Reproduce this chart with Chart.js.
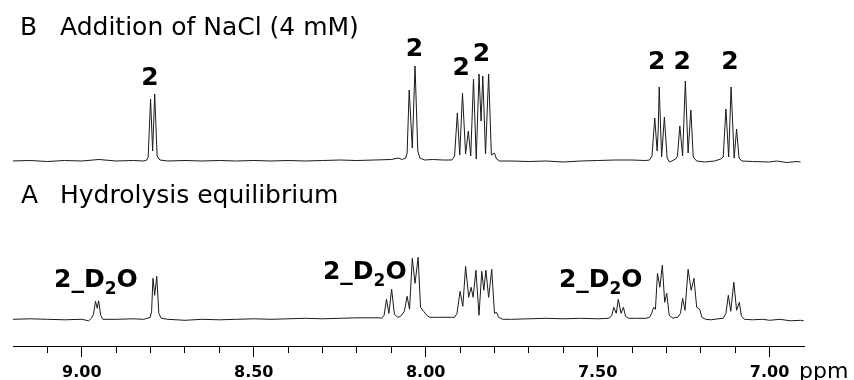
<!DOCTYPE html>
<html lang="en">
<head>
<meta charset="UTF-8">
<title>NMR spectra - NaCl addition</title>
<style>
  body { margin: 0; background: #fff; }
  #spec { display: block; }
</style>
</head>
<body>
<canvas id="spec" width="854" height="380"></canvas>
<script src="https://cdn.jsdelivr.net/npm/chart.js"></script>
<script>
// chemical shift (ppm) and signal height
const ppmB = [
  9.205, 9.150, 9.100, 9.050, 9.000, 8.950, 8.900, 8.850, 8.820,
  8.811, 8.807, 8.800, 8.794, 8.788, 8.781, 8.773,
  8.750, 8.700, 8.650, 8.600, 8.550, 8.500, 8.450, 8.400, 8.350, 8.300, 8.250, 8.200, 8.150, 8.100, 8.080, 8.068,
  8.058, 8.054, 8.048, 8.039, 8.031, 8.023, 8.017, 8.003,
  7.980, 7.950, 7.924,
  7.916, 7.908, 7.901, 7.893, 7.884, 7.876, 7.869, 7.861, 7.853, 7.845, 7.839, 7.834, 7.826, 7.817, 7.809, 7.800, 7.794, 7.785,
  7.750, 7.700, 7.650, 7.600, 7.550, 7.500, 7.450, 7.400, 7.360, 7.349,
  7.342, 7.334, 7.327, 7.324, 7.321, 7.314, 7.306, 7.298, 7.291, 7.285, 7.273,
  7.268, 7.261, 7.253, 7.245, 7.237, 7.229, 7.222, 7.212,
  7.189, 7.160, 7.142,
  7.135, 7.127, 7.119, 7.112, 7.103, 7.096, 7.089, 7.081,
  7.050, 7.000, 6.980, 6.950, 6.920, 6.910
];
const intB = [
  0, 0.5, -0.5, 0.5, 0, 1.5, 0, 0.5, 0,
  1, 4, 62, 10, 67, 5, 1,
  0, 0.5, 0, 0.5, 0, 0.5, 0, 0.5, 0, 0.5, 1, 0.5, 1, 1.5, 3, 1.5,
  3, 8, 71, 13, 95, 10, 3, 1,
  1.5, 1, 1,
  5, 48, 6, 68, 7, 30, 5, 82, 2, 87, 40, 85, 7, 87, 6, 8, 2, 0,
  0, -0.5, 0, -1, 0, 0.5, 1, 1, 0.5, 1,
  5, 43, 10, 30, 74, 4, 44, 3, -1, 0, 2,
  5, 35, 5, 80, 8, 51, 4, 0,
  -1, 0, 2,
  4, 52, 4, 74, 3, 32, 3, 0,
  -0.5, -1, 0, -1.5, -0.5, -1
];

const ppmA = [
  9.200, 9.150, 9.100, 9.050, 9.000, 8.980,
  8.972, 8.966, 8.960, 8.955, 8.951, 8.945, 8.939,
  8.900, 8.850, 8.820,
  8.801, 8.797, 8.793, 8.788, 8.782, 8.776, 8.769,
  8.750, 8.700, 8.650, 8.600, 8.550, 8.500, 8.450, 8.400, 8.350, 8.300, 8.250, 8.200, 8.150, 8.135,
  8.128, 8.121, 8.114, 8.107, 8.099, 8.091, 8.081, 8.073, 8.062, 8.054, 8.047, 8.039, 8.031, 8.022, 8.015, 8.006, 7.997, 7.988, 7.974,
  7.950, 7.925,
  7.916, 7.909, 7.900, 7.892, 7.884, 7.875, 7.868, 7.862, 7.854, 7.845, 7.837, 7.831, 7.825, 7.817, 7.808, 7.800, 7.794, 7.788, 7.776,
  7.750, 7.700, 7.650, 7.600, 7.550, 7.500, 7.470,
  7.465, 7.459, 7.453, 7.446, 7.440, 7.432, 7.425, 7.419, 7.410,
  7.390, 7.360, 7.349,
  7.343, 7.337, 7.332, 7.326, 7.319, 7.312, 7.305, 7.299, 7.292, 7.281, 7.273,
  7.267, 7.259, 7.253, 7.246, 7.237, 7.228, 7.220, 7.212, 7.203, 7.197, 7.186,
  7.170, 7.150,
  7.135, 7.127, 7.120, 7.113, 7.104, 7.096, 7.088, 7.082, 7.073,
  7.050, 7.020, 7.000, 6.970, 6.940, 6.910, 6.901
];
const intA = [
  0, 0.5, 0, -0.5, 0, -1.5,
  1, 5, 18, 11, 18.5, 4, 0,
  0, 0.5, 0,
  2, 8, 41, 24, 43, 6, 1,
  0, -1, 0, -0.5, 0, 0.5, 0, 0.5, 1, 0.5, 1, 1.5, 1.5, 1.5,
  1, 4, 20, 6, 30, 5, 2, 3, 8, 23, 10, 61, 36, 62, 12, 8, 4, 2, 2,
  2, 2,
  2, 6, 28, 13, 53, 22, 32, 22, 49, 4, 48, 29, 49, 22, 50, 6, 7, 2, 0,
  0, 0.5, 1, 0.5, 1, 0.5, 1,
  1.5, 4, 12, 6, 20, 6, 12, 3, 1,
  1, 1, 2,
  6, 12, 10, 46, 32, 54, 17, 26, 4, 1, 2,
  2, 6, 21, 9, 50, 29, 41, 12, 10, 2, 0,
  -0.5, 0.5,
  1, 6, 24, 8, 37, 9, 17, 3, 0,
  -0.5, 0, -1, 0, -1.5, -1, -1.5
];

// peak annotations: where they sit (ppm) and how high above the trace
const labelB_ppm = [8.802, 8.033, 7.897, 7.838, 7.328, 7.254, 7.115];
const labelB_h = [76, 105, 86, 100, 92, 92, 92];
const labelA_ppm = [8.959, 8.177, 7.491];
const labelA_h = [32, 40, 32];

const majorTicks = [9.0, 8.5, 8.0, 7.5, 7.0];
const titleB = 'Addition of NaCl (4 mM)';
const titleA = 'Hydrolysis equilibrium';

// vertical offsets of the two stacked traces
const baseB = 185;
const baseA = 26.7;

Chart.defaults.font.family = '"DejaVu Sans", sans-serif';

function isMajor(v) {
    return majorTicks.some(m => Math.abs(m - v) < 1e-6);
}

function drawD2O(ctx, cx, by) {
    const big = 'bold 25px "DejaVu Sans"';
    const small = 'bold 17px "DejaVu Sans"';
    ctx.font = big;
    const w1 = ctx.measureText('2_D').width;
    const w3 = ctx.measureText('O').width;
    ctx.font = small;
    const w2 = ctx.measureText('2').width;
    let x = cx - (w1 + w2 + w3) / 2;
    ctx.textAlign = 'left';
    ctx.font = big;
    ctx.fillText('2_D', x, by);
    x += w1;
    ctx.font = small;
    ctx.fillText('2', x, by + 7);
    x += w2;
    ctx.font = big;
    ctx.fillText('O', x, by);
}

const textPlugin = {
    id: 'spectrumText',
    afterDraw(chart) {
        const ctx = chart.ctx;
        const xs = chart.scales.x, ys = chart.scales.y;
        ctx.save();
        ctx.fillStyle = '#000';
        ctx.textBaseline = 'alphabetic';
        ctx.textAlign = 'left';

        ctx.font = '25px "DejaVu Sans"';
        ctx.fillText('B', 20, 35);
        ctx.fillText(titleB, 60, 35);
        ctx.fillText('A', 21, 203);
        ctx.fillText(titleA, 60, 203);

        ctx.font = 'bold 25px "DejaVu Sans"';
        ctx.textAlign = 'center';
        labelB_ppm.forEach((p, i) => {
            ctx.fillText('2', xs.getPixelForValue(p), ys.getPixelForValue(baseB + labelB_h[i]));
        });

        labelA_ppm.forEach((p, i) => {
            drawD2O(ctx, xs.getPixelForValue(p), ys.getPixelForValue(baseA + labelA_h[i]));
        });

        ctx.font = '22px "DejaVu Sans"';
        ctx.textAlign = 'left';
        ctx.fillText('ppm', 799, 378);
        ctx.restore();
    }
};

new Chart(document.getElementById('spec'), {
    type: 'line',
    data: {
        datasets: [
            {
                label: 'B',
                data: ppmB.map((p, i) => ({ x: p, y: baseB + intB[i] })),
                borderColor: '#1a1a1a',
                borderWidth: 1
            },
            {
                label: 'A',
                data: ppmA.map((p, i) => ({ x: p, y: baseA + intA[i] })),
                borderColor: '#1a1a1a',
                borderWidth: 1
            }
        ]
    },
    options: {
        responsive: false,
        animation: false,
        devicePixelRatio: 1,
        layout: { padding: { left: 13, right: 50, top: 0, bottom: 0 } },
        plugins: {
            legend: { display: false },
            tooltip: { enabled: false }
        },
        elements: {
            point: { radius: 0 },
            line: { tension: 0 }
        },
        scales: {
            x: {
                type: 'linear',
                reverse: true,
                min: 6.9,
                max: 9.2,
                afterBuildTicks: scale => {
                    scale.ticks = scale.ticks.filter(t => t.value > 6.95 && t.value < 9.15);
                },
                afterFit: scale => { scale.height = 34; },
                ticks: {
                    stepSize: 0.1,
                    autoSkip: false,
                    maxRotation: 0,
                    minRotation: 0,
                    padding: 6,
                    color: '#000',
                    font: { size: 16, weight: 'bold' },
                    callback: v => isMajor(v) ? v.toFixed(2) : ''
                },
                grid: {
                    drawOnChartArea: false,
                    drawTicks: true,
                    tickLength: 11,
                    tickColor: '#000',
                    tickWidth: 1,
                    tickBorderDash: c => (c.tick && !isMajor(c.tick.value)) ? [6, 30] : []
                },
                border: { display: true, color: '#000', width: 1 }
            },
            y: { display: false, min: 0, max: 346 }
        }
    },
    plugins: [textPlugin]
});
</script>
</body>
</html>
